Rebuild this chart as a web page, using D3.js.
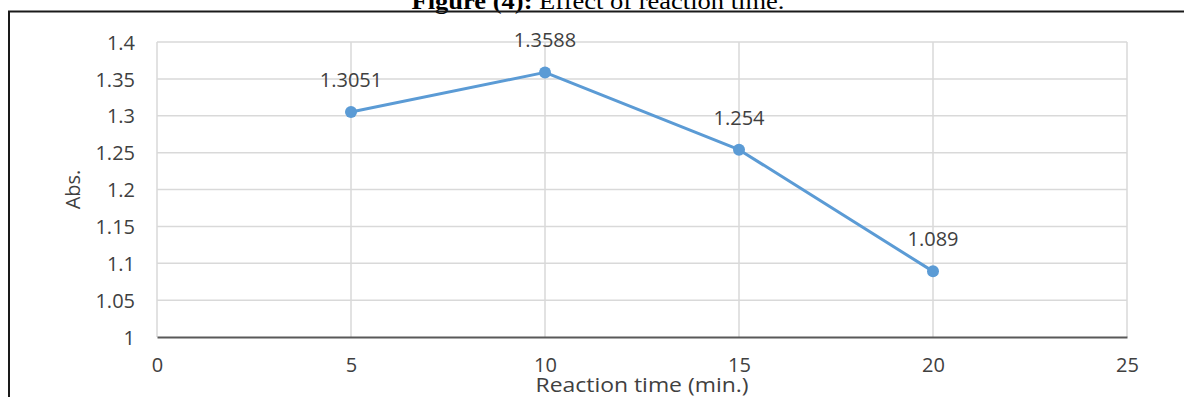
<!DOCTYPE html>
<html>
<head>
<meta charset="utf-8">
<script src="https://cdn.jsdelivr.net/npm/d3@7"></script>
<style>
  html, body { margin: 0; padding: 0; background: #fff; }
  svg { display: block; }
</style>
</head>
<body>
<svg id="chart" width="1184" height="397"></svg>
<script>
// Reaction time (min.) and measured absorbance
const times = [5, 10, 15, 20];
const absorbance = [1.3051, 1.3588, 1.254, 1.089];
const pointLabels = ["1.3051", "1.3588", "1.254", "1.089"];
const xTicks = [0, 5, 10, 15, 20, 25];
const yTicks = [1, 1.05, 1.1, 1.15, 1.2, 1.25, 1.3, 1.35, 1.4];
const yTickLabels = ["1", "1.05", "1.1", "1.15", "1.2", "1.25", "1.3", "1.35", "1.4"];

const svg = d3.select("#chart");
const font = "'Open Sans', sans-serif";
const textColor = "#404040";
const fs = 20;

const x = d3.scaleLinear().domain([0, 25]).range([157, 1127]);
const y = d3.scaleLinear().domain([1, 1.4]).range([337, 42]);

// Caption above the frame
const title = svg.append("text")
  .attr("x", 598).attr("y", 9)
  .attr("text-anchor", "middle")
  .attr("font-family", "'Liberation Serif', 'Times New Roman', serif")
  .attr("font-size", 24)
  .attr("textLength", 373)
  .attr("lengthAdjust", "spacingAndGlyphs")
  .attr("fill", "#000");
title.append("tspan").attr("font-weight", "bold").text("Figure (4):");
title.append("tspan").text(" Effect of reaction time.");

// Frame around the chart
svg.append("path")
  .attr("d", "M9,397 V11.5 H1184")
  .attr("fill", "none")
  .attr("stroke", "#1a1a1a")
  .attr("stroke-width", 2);

// Gridlines
const grid = svg.append("g");
grid.selectAll("line.h")
  .data(yTicks.slice(1))
  .join("line")
  .attr("x1", x(0)).attr("x2", x(25))
  .attr("y1", d => y(d)).attr("y2", d => y(d))
  .attr("stroke", "#d9d9d9").attr("stroke-width", 1.5);
grid.selectAll("line.v")
  .data(xTicks)
  .join("line")
  .attr("x1", d => x(d)).attr("x2", d => x(d))
  .attr("y1", y(1.4)).attr("y2", y(1))
  .attr("stroke", "#d9d9d9").attr("stroke-width", 1.5);

// Y axis labels
const yAxis = d3.axisLeft(y)
  .tickValues(yTicks)
  .tickSize(0)
  .tickPadding(22)
  .tickFormat((d, i) => yTickLabels[i]);
const gy = svg.append("g").attr("transform", `translate(${x(0)},0)`).call(yAxis);
gy.select(".domain").remove();
gy.selectAll("text")
  .attr("font-family", font).attr("font-size", fs).attr("fill", textColor)
  .attr("dy", "0.36em");

// X axis
const xAxis = d3.axisBottom(x)
  .tickValues(xTicks)
  .tickSize(0)
  .tickPadding(21)
  .tickFormat(d3.format("d"));
const gx = svg.append("g").attr("transform", `translate(0,${y(1)})`).call(xAxis);
gx.select(".domain").attr("stroke", "#595959").attr("stroke-width", 2);
gx.selectAll("text")
  .attr("font-family", font).attr("font-size", fs).attr("fill", textColor);

// Axis titles
svg.append("text")
  .attr("transform", `translate(80,${(y(1) + y(1.4)) / 2}) rotate(-90)`)
  .attr("text-anchor", "middle")
  .attr("font-family", font).attr("font-size", fs).attr("fill", textColor)
  .text("Abs.");
svg.append("text")
  .attr("x", 642).attr("y", 392)
  .attr("text-anchor", "middle")
  .attr("font-family", font).attr("font-size", 20).attr("fill", textColor)
  .attr("textLength", 213)
  .attr("lengthAdjust", "spacingAndGlyphs")
  .text("Reaction time (min.)");

// Series line and markers
const data = times.map((t, i) => ({ t, v: absorbance[i], label: pointLabels[i] }));
const line = d3.line().x(d => x(d.t)).y(d => y(d.v));
svg.append("path")
  .datum(data)
  .attr("d", line)
  .attr("fill", "none")
  .attr("stroke", "#5b9bd5")
  .attr("stroke-width", 3)
  .attr("stroke-linejoin", "round");
svg.selectAll("circle.pt")
  .data(data)
  .join("circle")
  .attr("cx", d => x(d.t)).attr("cy", d => y(d.v))
  .attr("r", 6)
  .attr("fill", "#5b9bd5");

// Data labels
svg.selectAll("text.val")
  .data(data)
  .join("text")
  .attr("x", d => x(d.t)).attr("y", d => y(d.v) - 25)
  .attr("text-anchor", "middle")
  .attr("font-family", font).attr("font-size", fs).attr("fill", textColor)
  .text(d => d.label);
</script>
</body>
</html>
